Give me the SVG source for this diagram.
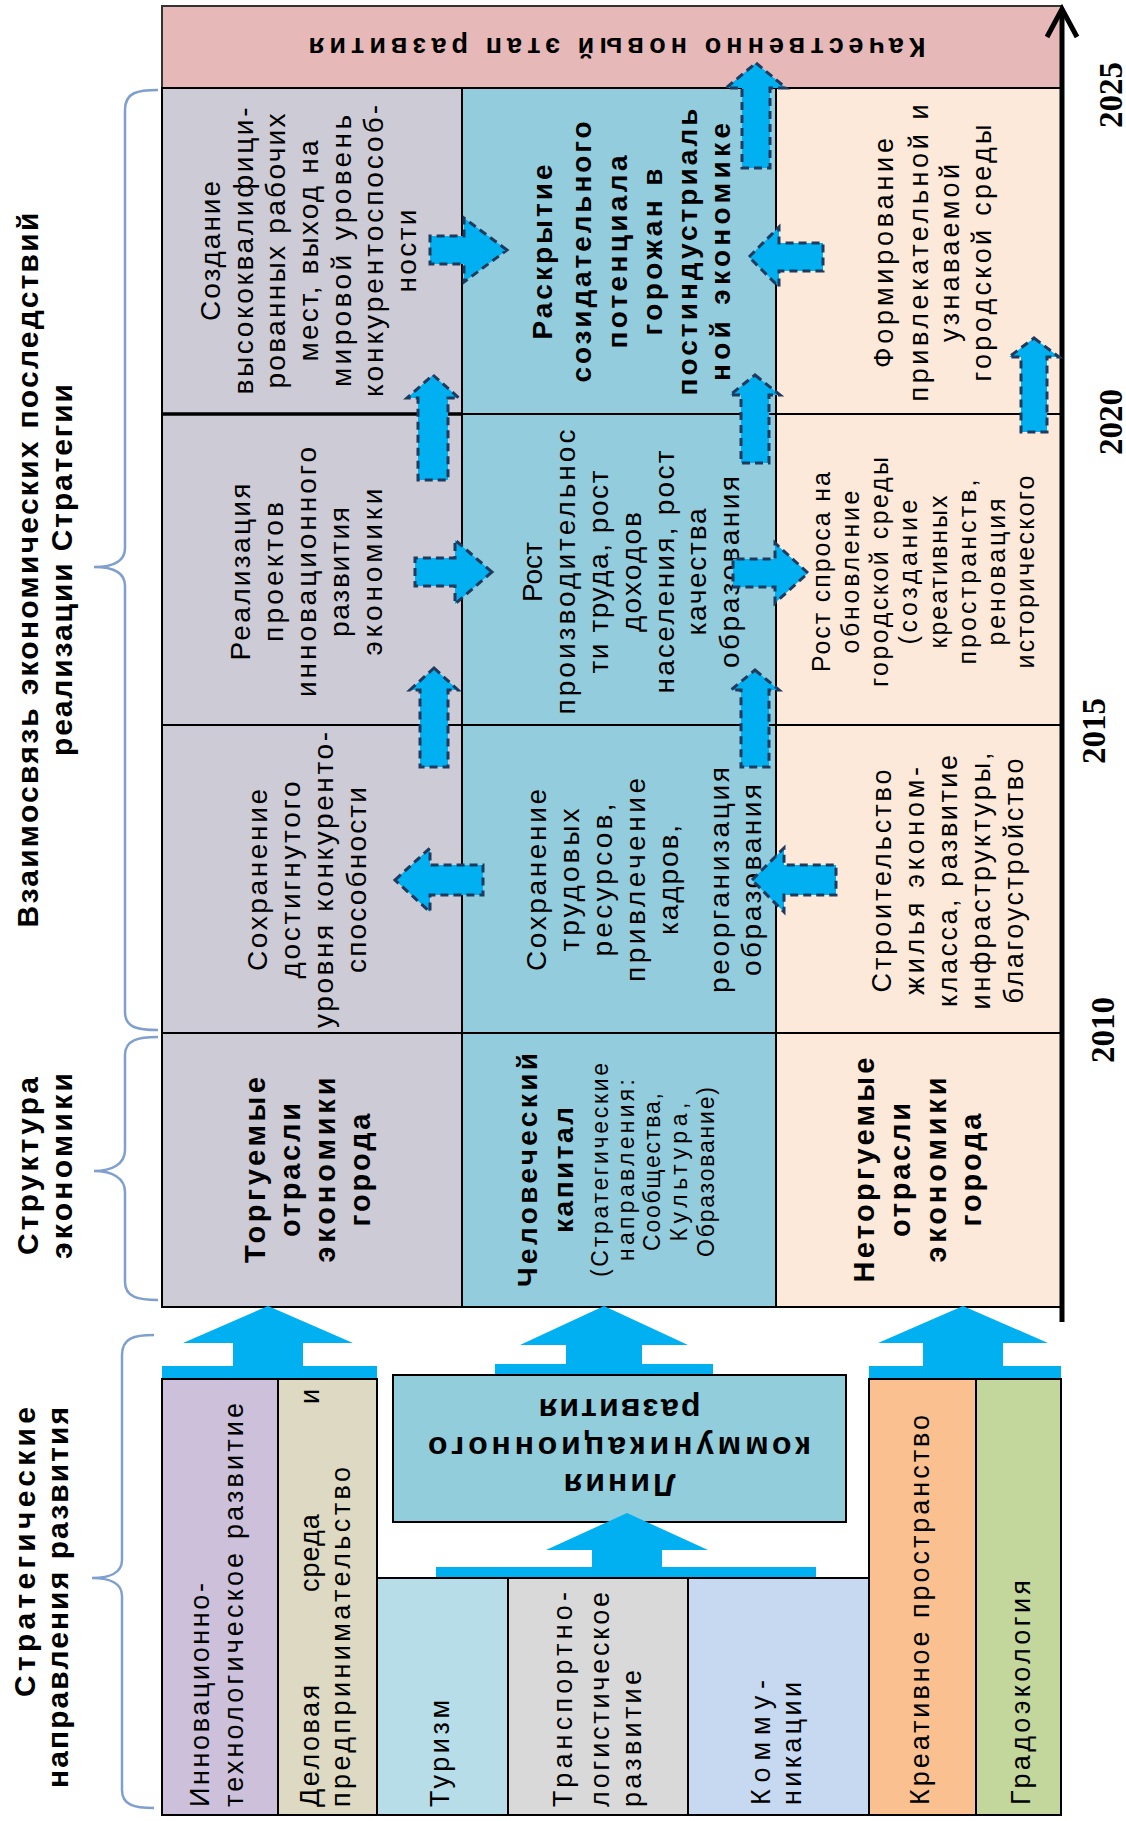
<svg xmlns="http://www.w3.org/2000/svg" width="1126" height="1821" viewBox="0 0 1126 1821">
<defs>
<style>
text{font-family:"Liberation Sans",Arial,sans-serif;fill:#000;text-anchor:middle}
.r{font-size:28px}
.r27{font-size:27px}
.r25{font-size:25px}
.r23{font-size:23px}
.b{font-weight:bold;font-size:28px}
.b29{font-weight:bold;font-size:29px}
.b30{font-weight:bold;font-size:30px}
.b32{font-weight:bold;font-size:32px}
.st{text-anchor:start}
.en{text-anchor:end}
.yr{font-family:"Liberation Serif","Times New Roman",serif;font-weight:bold;font-size:34px}
.cell{stroke:#000;stroke-width:2}
.box{stroke:#000;stroke-width:2}
.da{fill:#00b0f0;stroke:#1f3a5f;stroke-width:3;stroke-dasharray:8 5}
.sa{fill:#00b0f0}
.br{fill:none;stroke:#7f9fcf;stroke-width:2.5}
</style>
</defs>
<rect width="1126" height="1821" fill="#fff"/>

<g id="braces">
<path class="br" d="M158,90 C138,90 125,92 125,110 L125,548 C125,562 112,567 94,567 C112,567 125,572 125,586 L125,1012 C125,1028 138,1030 158,1030"/>
<path class="br" d="M158,1037 C138,1037 125,1040 125,1055 L125,1150 C125,1164 112,1171 94,1171 C112,1171 125,1178 125,1192 L125,1282 C125,1297 138,1300 158,1300"/>
<path class="br" d="M154,1335 C134,1335 122,1338 122,1355 L122,1560 C122,1573 109,1578 92,1578 C109,1578 122,1583 122,1596 L122,1790 C122,1805 134,1808 154,1808"/>
</g>

<g id="labels">
<text class="b30" x="38" y="570" transform="rotate(-90 38 570)" textLength="715">Взаимосвязь экономических последствий</text>
<text class="b30" x="72" y="570" transform="rotate(-90 72 570)" textLength="372">реализации Стратегии</text>
<text class="b30" x="38" y="1166" transform="rotate(-90 38 1166)" textLength="178">Структура</text>
<text class="b30" x="72" y="1166" transform="rotate(-90 72 1166)" textLength="186">экономики</text>
<text class="b30 en" x="35" y="1407" transform="rotate(-90 35 1407)" textLength="290">Стратегические</text>
<text class="b30 en" x="68" y="1407" transform="rotate(-90 68 1407)" textLength="381">направления развития</text>
</g>

<g id="top-stage">
<rect x="162" y="6" width="900" height="82" fill="#e6b8b7" stroke="#333" stroke-width="2"/>
<text class="b" style="font-size:27px" x="617" y="56" transform="rotate(180 617 47)" textLength="617">Качественно новый этап развития</text>
</g>

<g id="row-a">
<g id="a-gray">
<rect class="cell" x="162" y="88" width="300" height="326" fill="#cdcbd6"/>
<text class="r" x="220" y="251" transform="rotate(-90 220 251)" textLength="140">Создание</text>
<text class="r" x="253" y="251" transform="rotate(-90 253 251)" textLength="287">высококвалифици-</text>
<text class="r" x="285" y="251" transform="rotate(-90 285 251)" textLength="275">рованных рабочих</text>
<text class="r" x="318" y="251" transform="rotate(-90 318 251)" textLength="221">мест, выход на</text>
<text class="r" x="351" y="251" transform="rotate(-90 351 251)" textLength="272">мировой уровень</text>
<text class="r" x="383" y="251" transform="rotate(-90 383 251)" textLength="292">конкурентоспособ-</text>
<text class="r" x="416" y="251" transform="rotate(-90 416 251)" textLength="83">ности</text>
</g>
<g id="a-blue">
<rect class="cell" x="462" y="88" width="314" height="326" fill="#93cddd"/>
<text class="b" x="552" y="252" transform="rotate(-90 552 252)" textLength="175">Раскрытие</text>
<text class="b" x="591" y="252" transform="rotate(-90 591 252)" textLength="261">созидательного</text>
<text class="b" x="627" y="252" transform="rotate(-90 627 252)" textLength="193">потенциала</text>
<text class="b" x="662" y="252" transform="rotate(-90 662 252)" textLength="167">горожан в</text>
<text class="b" x="697" y="252" transform="rotate(-90 697 252)" textLength="287">постиндустриаль</text>
<text class="b" x="730" y="252" transform="rotate(-90 730 252)" textLength="258">ной экономике</text>
</g>
<g id="a-peach">
<rect class="cell" x="776" y="88" width="285" height="326" fill="#fde9d9"/>
<text class="r27" x="893" y="253" transform="rotate(-90 893 253)" textLength="230">Формирование</text>
<text class="r27" x="928" y="253" transform="rotate(-90 928 253)" textLength="297">привлекательной и</text>
<text class="r27" x="959" y="253" transform="rotate(-90 959 253)" textLength="178">узнаваемой</text>
<text class="r27" x="991" y="253" transform="rotate(-90 991 253)" textLength="257">городской среды</text>
</g>
</g>

<g id="row-b">
<g id="b-gray">
<rect class="cell" x="162" y="414" width="300" height="311" fill="#cdcbd6"/>
<text class="r" x="250" y="572" transform="rotate(-90 250 572)" textLength="177">Реализация</text>
<text class="r" x="283" y="572" transform="rotate(-90 283 572)" textLength="140">проектов</text>
<text class="r" x="316" y="572" transform="rotate(-90 316 572)" textLength="250">инновационного</text>
<text class="r" x="349" y="572" transform="rotate(-90 349 572)" textLength="130">развития</text>
<text class="r" x="382" y="572" transform="rotate(-90 382 572)" textLength="167">экономики</text>
</g>
<g id="b-blue">
<rect class="cell" x="462" y="414" width="314" height="311" fill="#93cddd"/>
<text class="r" x="542" y="572" transform="rotate(-90 542 572)" textLength="60">Рост</text>
<text class="r" x="575" y="572" transform="rotate(-90 575 572)" textLength="285">производительнос</text>
<text class="r" x="608" y="572" transform="rotate(-90 608 572)" textLength="203">ти труда, рост</text>
<text class="r" x="641" y="572" transform="rotate(-90 641 572)" textLength="120">доходов</text>
<text class="r" x="674" y="572" transform="rotate(-90 674 572)" textLength="243">населения, рост</text>
<text class="r" x="706" y="572" transform="rotate(-90 706 572)" textLength="127">качества</text>
<text class="r" x="739" y="572" transform="rotate(-90 739 572)" textLength="192">образования</text>
</g>
<g id="b-peach">
<rect class="cell" x="776" y="414" width="285" height="311" fill="#fde9d9"/>
<text class="r25" x="830" y="572" transform="rotate(-90 830 572)" textLength="200">Рост спроса на</text>
<text class="r25" x="859" y="572" transform="rotate(-90 859 572)" textLength="163">обновление</text>
<text class="r25" x="888" y="572" transform="rotate(-90 888 572)" textLength="230">городской среды</text>
<text class="r25" x="917" y="572" transform="rotate(-90 917 572)" textLength="145">(создание</text>
<text class="r25" x="947" y="572" transform="rotate(-90 947 572)" textLength="153">креативных</text>
<text class="r25" x="976" y="572" transform="rotate(-90 976 572)" textLength="185">пространств,</text>
<text class="r25" x="1005" y="572" transform="rotate(-90 1005 572)" textLength="147">реновация</text>
<text class="r25" x="1034" y="572" transform="rotate(-90 1034 572)" textLength="193">исторического</text>
</g>
</g>

<g id="row-c">
<g id="c-gray">
<rect class="cell" x="162" y="725" width="300" height="308" fill="#cdcbd6"/>
<text class="r" x="267" y="880" transform="rotate(-90 267 880)" textLength="182">Сохранение</text>
<text class="r" x="300" y="880" transform="rotate(-90 300 880)" textLength="197">достигнутого</text>
<text class="r" x="333" y="880" transform="rotate(-90 333 880)" textLength="296">уровня конкуренто-</text>
<text class="r" x="366" y="880" transform="rotate(-90 366 880)" textLength="186">способности</text>
</g>
<g id="c-blue">
<rect class="cell" x="462" y="725" width="314" height="308" fill="#93cddd"/>
<text class="r" x="546" y="880" transform="rotate(-90 546 880)" textLength="182">Сохранение</text>
<text class="r" x="579" y="880" transform="rotate(-90 579 880)" textLength="143">трудовых</text>
<text class="r" x="612" y="880" transform="rotate(-90 612 880)" textLength="153">ресурсов,</text>
<text class="r" x="645" y="880" transform="rotate(-90 645 880)" textLength="204">привлечение</text>
<text class="r" x="678" y="880" transform="rotate(-90 678 880)" textLength="110">кадров,</text>
<text class="r" x="729" y="880" transform="rotate(-90 729 880)" textLength="226">реорганизация</text>
<text class="r" x="761" y="880" transform="rotate(-90 761 880)" textLength="192">образования</text>
</g>
<g id="c-peach">
<rect class="cell" x="776" y="725" width="285" height="308" fill="#fde9d9"/>
<text class="r27" x="891" y="881" transform="rotate(-90 891 881)" textLength="223">Строительство</text>
<text class="r27" x="924" y="881" transform="rotate(-90 924 881)" textLength="228">жилья эконом-</text>
<text class="r27" x="957" y="881" transform="rotate(-90 957 881)" textLength="252">класса, развитие</text>
<text class="r27" x="990" y="881" transform="rotate(-90 990 881)" textLength="257">инфраструктуры,</text>
<text class="r27" x="1023" y="881" transform="rotate(-90 1023 881)" textLength="245">благоустройство</text>
</g>
</g>

<g id="row-d">
<g id="d-gray">
<rect class="cell" x="162" y="1033" width="300" height="274" fill="#cdcbd6"/>
<text class="b29" x="265" y="1170" transform="rotate(-90 265 1170)" textLength="186">Торгуемые</text>
<text class="b29" x="300" y="1170" transform="rotate(-90 300 1170)" textLength="134">отрасли</text>
<text class="b29" x="335" y="1170" transform="rotate(-90 335 1170)" textLength="185">экономики</text>
<text class="b29" x="370" y="1170" transform="rotate(-90 370 1170)" textLength="113">города</text>
</g>
<g id="d-blue">
<rect class="cell" x="462" y="1033" width="314" height="274" fill="#93cddd"/>
<text class="b" x="537" y="1170" transform="rotate(-90 537 1170)" textLength="234">Человеческий</text>
<text class="b" x="573" y="1170" transform="rotate(-90 573 1170)" textLength="126">капитал</text>
<text class="r23" x="608" y="1170" transform="rotate(-90 608 1170)" textLength="214">(Стратегические</text>
<text class="r23" x="634" y="1170" transform="rotate(-90 634 1170)" textLength="182">направления:</text>
<text class="r23" x="660" y="1172" transform="rotate(-90 660 1172)" textLength="158">Сообщества,</text>
<text class="r23" x="687" y="1172" transform="rotate(-90 687 1172)" textLength="139">Культура,</text>
<text class="r23" x="714" y="1172" transform="rotate(-90 714 1172)" textLength="170">Образование)</text>
</g>
<g id="d-peach">
<rect class="cell" x="776" y="1033" width="285" height="274" fill="#fde9d9"/>
<text class="b29" x="874" y="1170" transform="rotate(-90 874 1170)" textLength="225">Неторгуемые</text>
<text class="b29" x="910" y="1170" transform="rotate(-90 910 1170)" textLength="134">отрасли</text>
<text class="b29" x="946" y="1170" transform="rotate(-90 946 1170)" textLength="185">экономики</text>
<text class="b29" x="981" y="1170" transform="rotate(-90 981 1170)" textLength="113">города</text>
</g>
</g>
<line x1="162" y1="414" x2="462" y2="414" stroke="#000" stroke-width="3.5"/>

<g id="timeline">
<line x1="1062" y1="1322" x2="1062" y2="10" stroke="#000" stroke-width="5"/>
<polyline points="1047,37 1062,9 1077,37" fill="none" stroke="#000" stroke-width="5" stroke-linejoin="miter"/>
<text class="yr" x="1122" y="95" transform="rotate(-90 1122 95)" textLength="66" lengthAdjust="spacingAndGlyphs">2025</text>
<text class="yr" x="1122" y="422" transform="rotate(-90 1122 422)" textLength="66" lengthAdjust="spacingAndGlyphs">2020</text>
<text class="yr" x="1105" y="731" transform="rotate(-90 1105 731)" textLength="66" lengthAdjust="spacingAndGlyphs">2015</text>
<text class="yr" x="1114" y="1030" transform="rotate(-90 1114 1030)" textLength="66" lengthAdjust="spacingAndGlyphs">2010</text>
</g>

<g id="directions">
<g id="innov">
<rect class="box" x="162" y="1379" width="116" height="436" fill="#ccc0da"/>
<text class="r27 st" x="209" y="1807" transform="rotate(-90 209 1807)" textLength="224">Инновационно-</text>
<text class="r27 st" x="243" y="1807" transform="rotate(-90 243 1807)" textLength="404">технологическое развитие</text>
</g>
<g id="business">
<rect class="box" x="278" y="1379" width="99" height="436" fill="#ddd9c3"/>
<text class="r27 st" x="319" y="1807" transform="rotate(-90 319 1807)" style="letter-spacing:2.5px">Деловая</text>
<text class="r27 st" x="319" y="1592" transform="rotate(-90 319 1592)" style="letter-spacing:1px">среда</text>
<text class="r27 st" x="319" y="1404" transform="rotate(-90 319 1404)">и</text>
<text class="r27 st" x="350" y="1807" transform="rotate(-90 350 1807)" textLength="340">предпринимательство</text>
</g>
<g id="comm-line">
<rect class="box" x="393" y="1375" width="453" height="147" fill="#92cddc"/>
<g transform="rotate(180 619.5 1448)">
<text class="b32" x="619.5" y="1422" textLength="112">Линия</text>
<text class="b32" x="619.5" y="1459" textLength="383">коммуникационного</text>
<text class="b32" x="619.5" y="1497" textLength="162">развития</text>
</g>
</g>
<g id="tourism">
<rect class="box" x="377" y="1578" width="131" height="237" fill="#b7dee8"/>
<text class="r27 st" x="449" y="1807" transform="rotate(-90 449 1807)" textLength="107">Туризм</text>
</g>
<g id="transport">
<rect class="box" x="508" y="1578" width="180" height="237" fill="#d9d9d9"/>
<text class="r27 st" x="572" y="1807" transform="rotate(-90 572 1807)" textLength="215">Транспортно-</text>
<text class="r27 st" x="609" y="1807" transform="rotate(-90 609 1807)" textLength="215">логистическое</text>
<text class="r27 st" x="641" y="1807" transform="rotate(-90 641 1807)" textLength="137">развитие</text>
</g>
<g id="communications">
<rect class="box" x="688" y="1578" width="181" height="237" fill="#c6d9f0"/>
<text class="r27 st" x="770" y="1805" transform="rotate(-90 770 1805)" textLength="125">Комму-</text>
<text class="r27 st" x="801" y="1805" transform="rotate(-90 801 1805)" textLength="123">никации</text>
</g>
<g id="creative">
<rect class="box" x="869" y="1379" width="107" height="436" fill="#fac090"/>
<text class="r27 st" x="929" y="1805" transform="rotate(-90 929 1805)" textLength="390">Креативное пространство</text>
</g>
<g id="ecology">
<rect class="box" x="976" y="1379" width="85" height="436" fill="#c3d69b"/>
<text class="r27 st" x="1030" y="1805" transform="rotate(-90 1030 1805)" textLength="225">Градоэкология</text>
</g>
</g>

<g id="connectors">
<rect class="sa" x="162" y="1366" width="215" height="12"/>
<rect class="sa" x="495" y="1364" width="218" height="10"/>
<rect class="sa" x="869" y="1366" width="192" height="12"/>
<rect class="sa" x="436" y="1567" width="380" height="10"/>
<polygon class="sa" points="268,1306 353,1343 303,1343 303,1366 233,1366 233,1343 183,1343"/>
<polygon class="sa" points="604,1306 688,1345 642,1345 642,1365 566,1365 566,1345 520,1345"/>
<polygon class="sa" points="963,1306 1048,1343 1003,1343 1003,1366 923,1366 923,1343 878,1343"/>
<polygon class="sa" points="627,1513 708,1550 662,1550 662,1568 592,1568 592,1550 546,1550"/>
<polygon class="da" points="433,375 459,398 448,398 448,480 418,480 418,398 407,398"/>
<polygon class="da" points="434,668 458,690 448,690 448,767 420,767 420,690 410,690"/>
<polygon class="da" points="755,670 779,690 769,690 769,767 741,767 741,690 731,690"/>
<polygon class="da" points="755,375 780,395 769,395 769,463 741,463 741,395 730,395"/>
<polygon class="da" points="756,63 786,88 770,88 770,168 742,168 742,88 726,88"/>
<polygon class="da" points="1034,338 1059,357 1047,357 1047,432 1021,432 1021,357 1009,357"/>
<polygon class="da" points="507,250 464,218 464,236 430,236 430,264 464,264 464,282"/>
<polygon class="da" points="492,572 455,540 455,558 415,558 415,586 455,586 455,604"/>
<polygon class="da" points="808,573 775,543 775,559 733,559 733,587 775,587 775,603"/>
<polygon class="da" points="395,880 430,848 430,865 483,865 483,895 430,895 430,912"/>
<polygon class="da" points="752,880 784,848 784,865 836,865 836,895 784,895 784,912"/>
<polygon class="da" points="749,257 779,227 779,243 823,243 823,271 779,271 779,287"/>
</g>
</svg>
